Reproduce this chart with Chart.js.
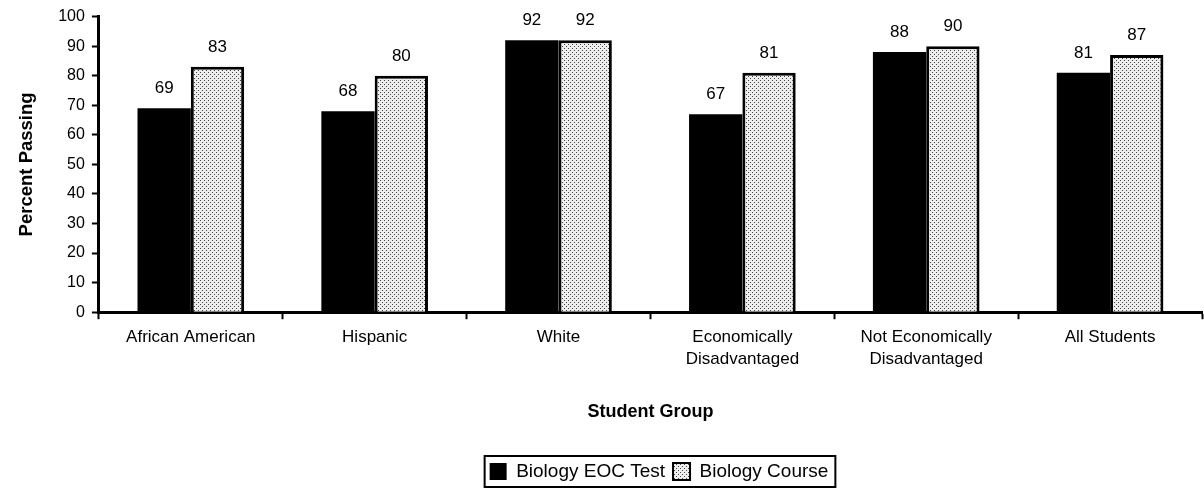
<!DOCTYPE html>
<html>
<head>
<meta charset="utf-8">
<script src="https://cdn.jsdelivr.net/npm/chart.js@4.4.0/dist/chart.umd.min.js"></script>
<style>
  html, body { margin: 0; padding: 0; background: #fff; }
  #wrap { width: 1204px; height: 495px; position: relative; }
</style>
</head>
<body>
<div id="wrap"><canvas id="c" width="1204" height="495"></canvas></div>
<script>
const categories = [
  'African American',
  'Hispanic',
  'White',
  ['Economically', 'Disadvantaged'],
  ['Not Economically', 'Disadvantaged'],
  'All Students'
];
const seriesNames = ['Biology EOC Test', 'Biology Course'];
const eocTest = [69, 68, 92, 67, 88, 81];
const course = [83, 80, 92, 81, 90, 87];
const yTicks = [0, 10, 20, 30, 40, 50, 60, 70, 80, 90, 100];

const FONT = '"Liberation Sans", Arial, Helvetica, sans-serif';

function makeStipple() {
  const t = document.createElement('canvas');
  t.width = 4; t.height = 4;
  const g = t.getContext('2d');
  g.fillStyle = '#eeeeee';
  g.fillRect(0, 0, 4, 4);
  g.fillStyle = '#444';
  g.fillRect(0, 0, 1, 1);
  g.fillRect(2, 2, 1, 1);
  return g.createPattern(t, 'repeat');
}
const ctx = document.getElementById('c').getContext('2d');
const stipple = makeStipple();

const valueLabels = {
  id: 'valueLabels',
  afterDatasetsDraw(chart) {
    const c = chart.ctx;
    c.save();
    c.font = '17px ' + FONT;
    c.fillStyle = '#000';
    c.textAlign = 'center';
    c.textBaseline = 'alphabetic';
    chart.data.datasets.forEach((ds, i) => {
      const meta = chart.getDatasetMeta(i);
      meta.data.forEach((el, j) => {
        c.fillText(String(ds.data[j]), el.x, el.y - 15);
      });
    });
    c.restore();
  }
};

const legendShift = {
  id: 'legendShift',
  afterLayout(chart) {
    const lg = chart.legend;
    if (!lg) return;
    const dx = 54;
    lg.left += dx;
    lg.right += dx;
  }
};

const legendBorder = {
  id: 'legendBorder',
  afterDraw(chart) {
    const lg = chart.legend;
    if (!lg || !lg.legendHitBoxes || !lg.legendHitBoxes.length) return;
    const boxes = lg.legendHitBoxes;
    let l = Infinity, r = -Infinity, t = Infinity, b = -Infinity;
    boxes.forEach(h => {
      l = Math.min(l, h.left); r = Math.max(r, h.left + h.width);
      t = Math.min(t, h.top); b = Math.max(b, h.top + h.height);
    });
    const c = chart.ctx;
    c.save();
    c.strokeStyle = '#000';
    c.lineWidth = 2;
    c.strokeRect(l - 5, t - 6, (r - l) + 12, (b - t) + 12);
    c.restore();
  }
};

new Chart(ctx, {
  type: 'bar',
  data: {
    labels: categories,
    datasets: [
      {
        label: seriesNames[0],
        data: eocTest,
        backgroundColor: '#000',
        borderColor: '#000',
        borderWidth: 0,
        categoryPercentage: 0.58,
        barPercentage: 1.0
      },
      {
        label: seriesNames[1],
        data: course,
        backgroundColor: stipple,
        borderColor: '#000',
        borderWidth: 3,
        borderSkipped: 'bottom',
        categoryPercentage: 0.58,
        barPercentage: 1.0
      }
    ]
  },
  options: {
    responsive: false,
    animation: false,
    devicePixelRatio: 1,
    layout: { padding: { left: 8, right: 2, top: 14, bottom: 4 } },
    plugins: {
      tooltip: { enabled: false },
      legend: {
        position: 'bottom',
        labels: {
          color: '#000',
          font: { family: FONT, size: 19 },
          boxWidth: 17,
          boxHeight: 17,
          padding: 8,
          generateLabels(chart) {
            return chart.data.datasets.map((ds, i) => ({
              text: ds.label,
              fillStyle: ds.backgroundColor,
              strokeStyle: '#000',
              lineWidth: i === 0 ? 0 : 2,
              hidden: false,
              datasetIndex: i,
              fontColor: '#000'
            }));
          }
        }
      }
    },
    scales: {
      x: {
        offset: true,
        grid: {
          display: true,
          offset: true,
          drawOnChartArea: false,
          drawTicks: true,
          tickLength: 7,
          tickWidth: 2,
          tickColor: '#000'
        },
        border: { display: true, color: '#000', width: 3 },
        ticks: {
          color: '#000',
          font: { family: FONT, size: 17, lineHeight: 1.3 },
          padding: 7,
          maxRotation: 0,
          autoSkip: false
        },
        title: {
          display: true,
          text: 'Student Group',
          color: '#000',
          font: { family: FONT, size: 18, weight: 'bold' },
          padding: { top: 24, bottom: 31 }
        }
      },
      y: {
        min: 0,
        max: 100,
        afterBuildTicks(axis) { axis.ticks = yTicks.map(v => ({ value: v })); },
        grid: {
          display: true,
          drawOnChartArea: false,
          drawTicks: true,
          tickLength: 7,
          tickWidth: 2,
          tickColor: '#000'
        },
        border: { display: true, color: '#000', width: 3 },
        ticks: {
          color: '#000',
          font: { family: FONT, size: 16 },
          padding: 7
        },
        title: {
          display: true,
          text: 'Percent Passing',
          color: '#000',
          font: { family: FONT, size: 18.5, weight: 'bold' },
          padding: { top: 8, bottom: 13 }
        }
      }
    }
  },
  plugins: [legendShift, valueLabels, legendBorder]
});
</script>
</body>
</html>
